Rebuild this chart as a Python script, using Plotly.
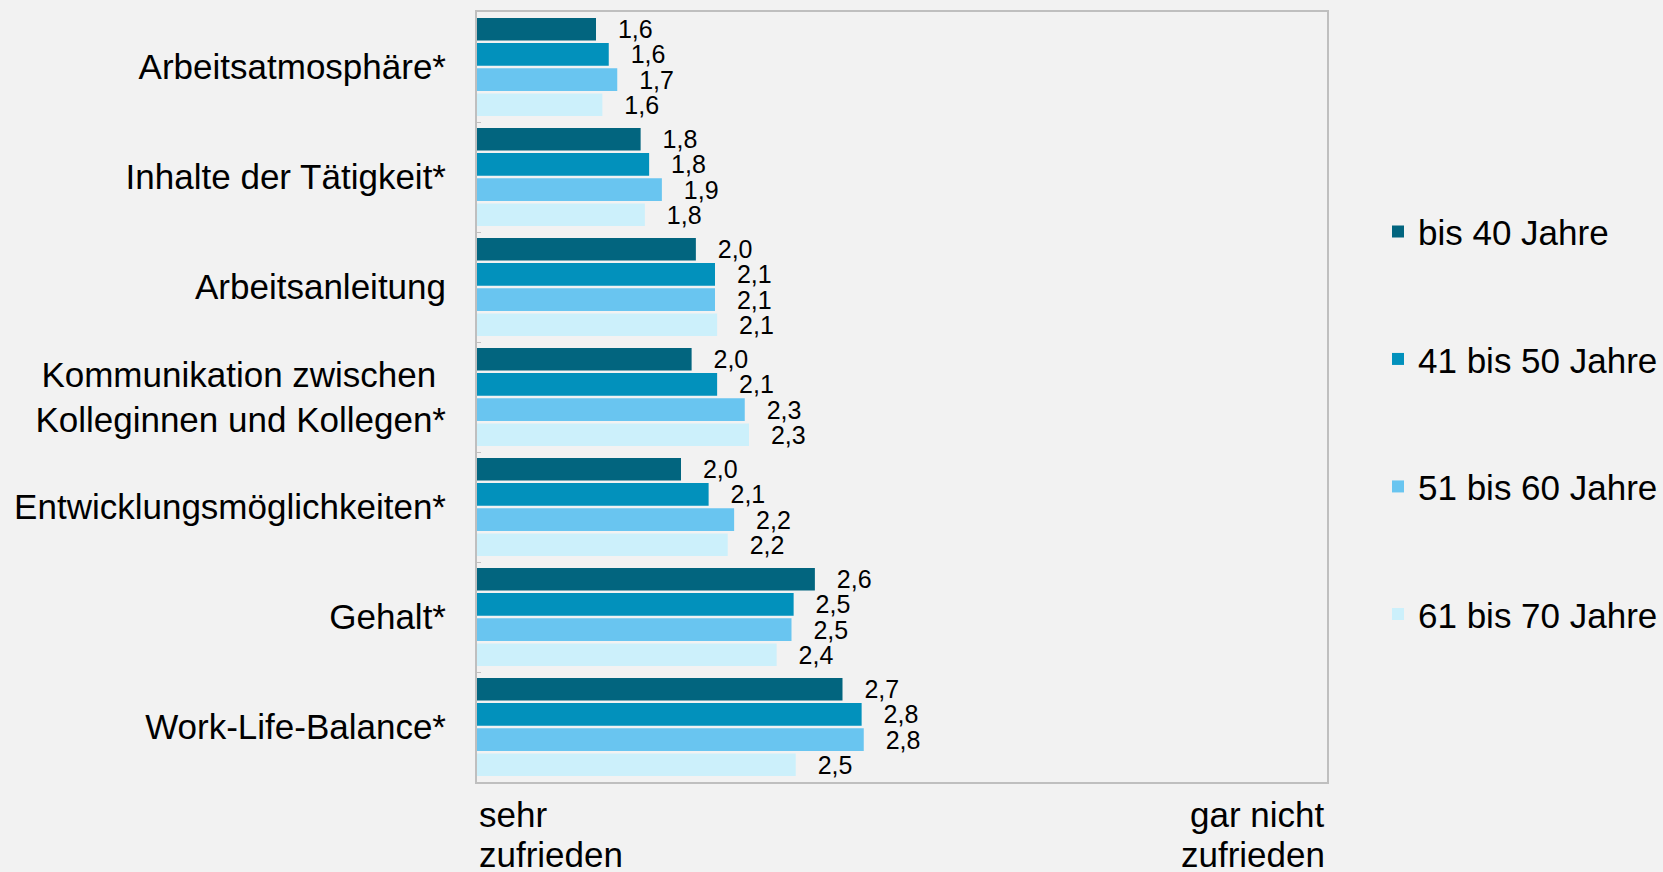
import plotly.graph_objects as go

categories = [
    "Arbeitsatmosphäre*",
    "Inhalte der Tätigkeit*",
    "Arbeitsanleitung",
    "Kommunikation zwischen <br>Kolleginnen und Kollegen*",
    "Entwicklungsmöglichkeiten*",
    "Gehalt*",
    "Work-Life-Balance*",
]
series_names = ["bis 40 Jahre", "41 bis 50 Jahre", "51 bis 60 Jahre", "61 bis 70 Jahre"]
bis_40 = [1.56, 1.77, 2.03, 2.01, 1.96, 2.59, 2.72]
j41_50 = [1.62, 1.81, 2.12, 2.13, 2.09, 2.49, 2.81]
j51_60 = [1.66, 1.87, 2.12, 2.26, 2.21, 2.48, 2.82]
j61_70 = [1.59, 1.79, 2.13, 2.28, 2.18, 2.41, 2.50]
colors = ["#02657f", "#0291bc", "#69c5f0", "#ccf0fb"]
scale_min, scale_max = 1, 5
scale_labels_left = ["sehr", "zufrieden"]
scale_labels_right = ["gar nicht", "zufrieden"]

FONT = "Arial, 'Liberation Sans', sans-serif"
PAD = "\u00a0\u00a0\u2009"

fig = go.Figure()
for name, vals, col in zip(series_names, [bis_40, j41_50, j51_60, j61_70], colors):
    fig.add_trace(go.Bar(
        y=categories, x=vals, name=name, orientation="h",
        marker=dict(color=col, line=dict(width=0)),
        text=[PAD + f"{v:.1f}".replace(".", ",") for v in vals],
        textposition="outside", constraintext="none", cliponaxis=False,
        textfont=dict(family=FONT, size=25, color="#000000"),
        legendgroup=name, hoverinfo="x+y+name",
    ))

annos = []
for i, t in enumerate(scale_labels_left):
    annos.append(dict(text=t, xref="paper", yref="paper", x=0, y=0, xanchor="left",
                      yanchor="top", yshift=-11 - 40 * i, showarrow=False,
                      font=dict(family=FONT, size=35, color="#000000")))
for i, t in enumerate(scale_labels_right):
    annos.append(dict(text=t, xref="paper", yref="paper", x=1, y=0, xanchor="right",
                      yanchor="top", yshift=-11 - 40 * i, showarrow=False,
                      font=dict(family=FONT, size=35, color="#000000")))

fig.update_layout(
    width=1663, height=872,
    paper_bgcolor="#f2f2f2", plot_bgcolor="#f2f2f2",
    margin=dict(l=477, r=336, t=12, b=90, autoexpand=False),
    barmode="group", bargap=0.085, bargroupgap=0.1,
    font=dict(family=FONT, size=35, color="#000000"),
    showlegend=True,
    legend=dict(x=1.06, xanchor="left", y=0.753, yanchor="top",
                traceorder="grouped", tracegroupgap=79,
                font=dict(family=FONT, size=35, color="#000000"),
                bgcolor="rgba(0,0,0,0)"),
    xaxis=dict(range=[scale_min, scale_max], showticklabels=False, showgrid=False,
               zeroline=False, showline=True, mirror=True, linecolor="#bfbfbf",
               linewidth=2, ticks=""),
    yaxis=dict(autorange="reversed", showgrid=False, zeroline=False, showline=True,
               mirror=True, linecolor="#bfbfbf", linewidth=2,
               ticks="inside", tickson="boundaries", ticklen=4, tickcolor="#bfbfbf",
               ticklabelstandoff=22,
               tickfont=dict(family=FONT, size=35, color="#000000")),
    annotations=annos,
)

fig.write_html(
    "out.html",
    config={"displayModeBar": False},
    post_script="document.body.style.margin='0';document.body.style.background='#f2f2f2';",
)
